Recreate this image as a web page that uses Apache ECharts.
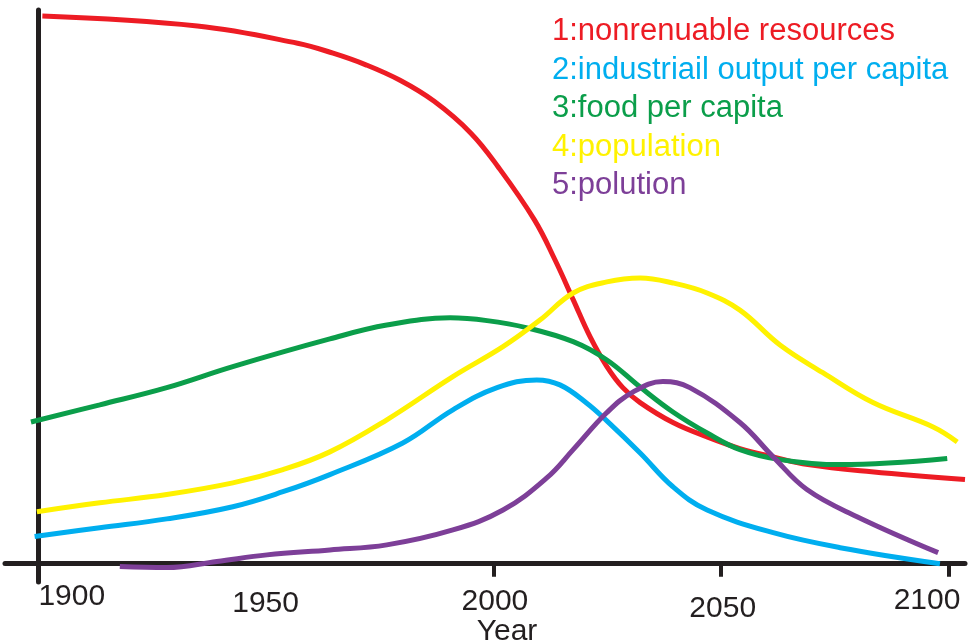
<!DOCTYPE html>
<html>
<head>
<meta charset="utf-8">
<script src="https://cdn.jsdelivr.net/npm/echarts@6.0.0/dist/echarts.min.js"></script>
<style>
  html, body { margin: 0; padding: 0; background: #fff; }
  #main { width: 969px; height: 644px; }
</style>
</head>
<body>
<div id="main"></div>
<script>
// years are stored as real years, the x axis counts from BASE_YEAR so the y axis sits on 1900
var BASE_YEAR = 1900;
var labelYears = [1900, 1950, 2000, 2050, 2100];
var tickYears = [2000, 2050, 2100];

var seriesNames = [
    '1:nonrenuable resources',
    '2:industriail output per capita',
    '3:food per capita',
    '4:population',
    '5:polution'
];
var seriesColors = ['#ed1c24', '#00aeef', '#0b9e4a', '#fff200', '#7d3f98'];

// [year, level]
var resources = [[1901, 98.9], [1935, 97.1], [1957, 94.0], [1964.8, 92.2], [1972, 90.1], [1979.5, 87.3],
    [1987, 83.5], [1995, 77.8], [2001, 71.7], [2009, 62.1], [2013.5, 54.9], [2017.5, 47.7],
    [2021.2, 41.0], [2024.9, 35.6], [2028.4, 31.8], [2032.2, 29.1], [2039.4, 25.5], [2046.9, 22.9],
    [2054.1, 20.8], [2061.4, 19.3], [2069, 17.9], [2083, 16.6], [2103.5, 15.2]];
var industry = [[1899.3, 4.9], [1913.6, 6.5], [1928.3, 8.1], [1942.8, 10.3], [1953.8, 13.0], [1964.1, 16.1],
    [1980.1, 21.8], [1991.1, 27.8], [2000.8, 31.8], [2009.5, 33.2], [2014.6, 32.3], [2020.5, 29.0],
    [2024.9, 25.8], [2032.2, 20.0], [2039.4, 13.9], [2046.9, 9.7], [2061.4, 5.6], [2076.1, 2.9], [2098, 0]];
var food = [[1898.5, 25.6], [1913.6, 28.7], [1928.3, 31.8], [1942.8, 35.6], [1964.1, 40.6], [1976.6, 43.1],
    [1990.5, 44.4], [1998.6, 43.9], [2007.4, 42.6], [2017.5, 40.1], [2024.9, 36.8], [2032.2, 31.9],
    [2039.4, 27.4], [2046.9, 23.6], [2054.1, 20.6], [2062.9, 18.8], [2076.1, 17.9], [2099.6, 19.0]];
var population = [[1899.8, 9.4], [1913.6, 11.0], [1928.3, 12.5], [1942.8, 14.6], [1953.8, 17.0], [1964.1, 20.2],
    [1976.6, 26.0], [1991.1, 33.8], [2002.1, 39.2], [2010.2, 44.0], [2017.5, 48.9], [2024.9, 50.9],
    [2032.2, 51.6], [2039.4, 50.7], [2046.9, 48.9], [2054.1, 45.8], [2062.9, 39.5], [2072.3, 34.5],
    [2083.3, 29.1], [2096.5, 24.7], [2101.8, 22.0]];
var pollution = [[1918, -0.5], [1928.3, -0.7], [1939.3, 0.4], [1950.3, 1.6], [1964.1, 2.5], [1976.6, 3.4],
    [1991.1, 6.1], [2002.1, 9.7], [2011.7, 15.5], [2017.5, 20.6], [2024.9, 27.3], [2030.6, 31.0],
    [2037.2, 32.9], [2043.1, 31.8], [2054.1, 25.5], [2061.4, 19.3], [2068.8, 13.4],
    [2079.8, 8.5], [2097.6, 2.0]];

var allData = [resources, industry, food, population, pollution];

function shift(list) {
    return list.map(function (p) { return [p[0] - BASE_YEAR, p[1]]; });
}

function chart() {
    var dom = document.getElementById('main');
    var myChart = echarts.init(dom);
    var ink = '#231f20';
    var labelFont = 'Liberation Sans, Arial, Helvetica, sans-serif';

    var rich = {
        y1900: { fontSize: 30, color: ink, fontFamily: labelFont, padding: [0, 0, 0, 68] },
        y1950: { fontSize: 30, color: ink, fontFamily: labelFont, padding: [7, 0, 0, 0] },
        y2000: { fontSize: 30, color: ink, fontFamily: labelFont, padding: [5, 0, 0, 3] },
        y2050: { fontSize: 30, color: ink, fontFamily: labelFont, padding: [12, 0, 0, 3] },
        y2100: { fontSize: 30, color: ink, fontFamily: labelFont, padding: [4, 44, 0, 0] }
    };

    var option = {
        animation: false,
        backgroundColor: '#fff',
        grid: { left: 5, right: 4, top: 10, bottom: 62, outerBoundsMode: 'none' },
        legend: {
            orient: 'vertical',
            left: 542,
            top: 11,
            icon: 'none',
            itemWidth: 0,
            itemHeight: 31,
            itemGap: 7.5,
            selectedMode: false,
            textStyle: { fontSize: 31, fontFamily: labelFont },
            data: seriesNames.map(function (n, i) {
                return { name: n, textStyle: { color: seriesColors[i] } };
            })
        },
        xAxis: {
            type: 'value',
            min: -7.2,
            max: 203.5,
            name: 'Year',
            nameLocation: 'middle',
            nameGap: 35,
            nameMoveOverlap: false,
            nameTextStyle: { fontSize: 30, color: ink, fontFamily: labelFont, padding: [0, 0, 0, 44] },
            axisLine: { onZero: true, lineStyle: { color: ink, width: 5 } },
            axisTick: {
                show: true,
                length: 13,
                lineStyle: { color: ink, width: 4 },
                customValues: tickYears.map(function (y) { return y - BASE_YEAR; })
            },
            axisLabel: {
                margin: 0,
                customValues: labelYears.map(function (y) { return y - BASE_YEAR; }),
                formatter: function (v) {
                    var y = Math.round(v + BASE_YEAR);
                    return '{y' + y + '|' + y + '}';
                },
                rich: rich
            },
            splitLine: { show: false }
        },
        yAxis: {
            type: 'value',
            min: -3.3,
            max: 100,
            axisLine: { show: true, onZero: true, lineStyle: { color: ink, width: 5 } },
            axisTick: { show: false },
            axisLabel: { show: false },
            splitLine: { show: false }
        },
        series: allData.map(function (d, i) {
            return {
                name: seriesNames[i],
                type: 'line',
                smooth: 0.4,
                showSymbol: false,
                color: seriesColors[i],
                lineStyle: { width: 5, color: seriesColors[i] },
                data: shift(d)
            };
        })
    };

    myChart.setOption(option, true);
}

chart();
</script>
</body>
</html>
